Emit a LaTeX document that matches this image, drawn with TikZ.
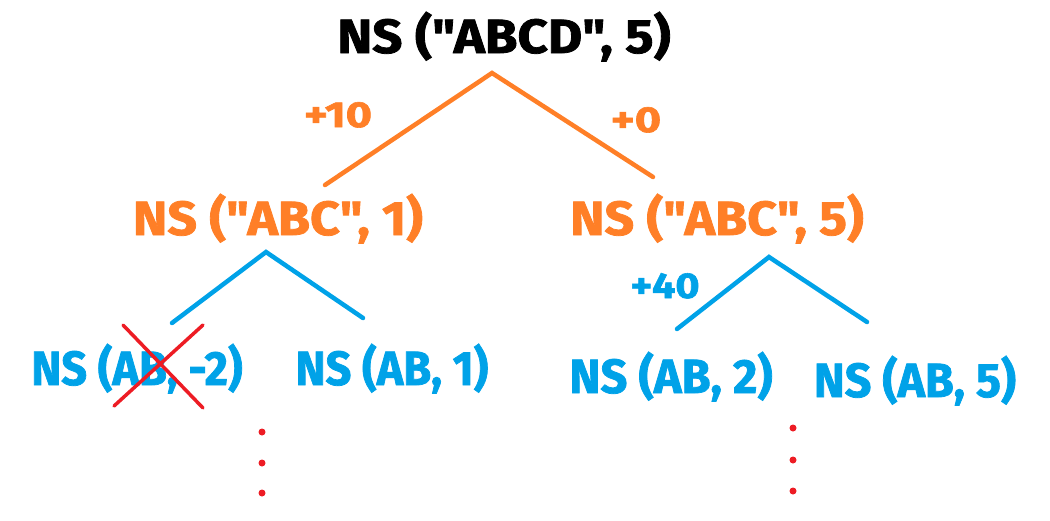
\documentclass[tikz,border=0pt]{standalone}
\usepackage{graphicx}
\usepackage{fontspec}
\setmainfont{Fira Sans}[Ligatures=TeXOff,BoldFeatures={FakeBold=1.6}]
\definecolor{ns-orange}{HTML}{FF7F27}
\definecolor{ns-blue}{HTML}{00A2E8}
\definecolor{ns-red}{HTML}{ED1C24}
\newcommand{\sx}[2]{\scalebox{#1}[1]{#2}}
\begin{document}
\begin{tikzpicture}[x=1pt,y=-1pt,
  lbl/.style={inner sep=0pt,anchor=base,font=\bfseries\fontsize{48}{50}\selectfont},
  wt/.style={inner sep=0pt,anchor=base,font=\bfseries\fontsize{36}{38}\selectfont},
  edge/.style={line width=4.5pt,line cap=round,line join=miter},
  dot/.style={circle,fill=ns-red,inner sep=0pt,minimum size=7pt}]
\useasboundingbox (0,0) rectangle (1050,520);
% top
\node[lbl] (root) at (504,53) {\sx{1.1}{NS ("ABCD", 5)}};
\coordinate (r-apex) at (492,73);
\coordinate (r-left) at (325,185);
\coordinate (r-right) at (653,177);
\draw[edge,ns-orange] (r-left) -- (r-apex) -- (r-right);
\node[wt,ns-orange] (w10) at (338,127) {\sx{1.25}{+10}};
\node[wt,ns-orange] (w0) at (636,132) {\sx{1.25}{+0}};
% second level
\node[lbl,ns-orange] (abc1) at (278,235) {\sx{1.08}{NS ("ABC", 1)}};
\node[lbl,ns-orange] (abc5) at (717,235) {\sx{1.08}{NS ("ABC", 5)}};
\coordinate (l-apex) at (266,252);
\coordinate (l-left) at (172,323);
\coordinate (l-right) at (363,318);
\draw[edge,ns-blue] (l-left) -- (l-apex) -- (l-right);
\coordinate (m-apex) at (769,257);
\coordinate (m-left) at (677,329);
\coordinate (m-right) at (867,322);
\draw[edge,ns-blue] (m-left) -- (m-apex) -- (m-right);
\node[wt,ns-blue] (w40) at (665,298) {\sx{1.15}{+40}};
% third level
\node[lbl,ns-blue] (abm2) at (137,385) {\sx{0.94}{NS (AB, -2)}};
\node[lbl,ns-blue] (ab1) at (392,385) {\sx{0.94}{NS (AB, 1)}};
\node[lbl,ns-blue] (ab2) at (671,393) {\sx{0.98}{NS (AB, 2)}};
\node[lbl,ns-blue] (ab5) at (915,397) {\sx{0.97}{NS (AB, 5)}};
% cross
\coordinate (x1) at (123,325);
\coordinate (x2) at (203,408);
\coordinate (x3) at (203,325);
\coordinate (x4) at (114,406);
\draw[line width=3.5pt,line cap=round,ns-red] (x1) -- (x2) (x3) -- (x4);
% dots
\node[dot] (d1) at (262,432) {};
\node[dot] (d2) at (262,463) {};
\node[dot] (d3) at (262,493) {};
\node[dot] (e1) at (793,428) {};
\node[dot] (e2) at (793,460) {};
\node[dot] (e3) at (793,491) {};
\end{tikzpicture}
\end{document}
